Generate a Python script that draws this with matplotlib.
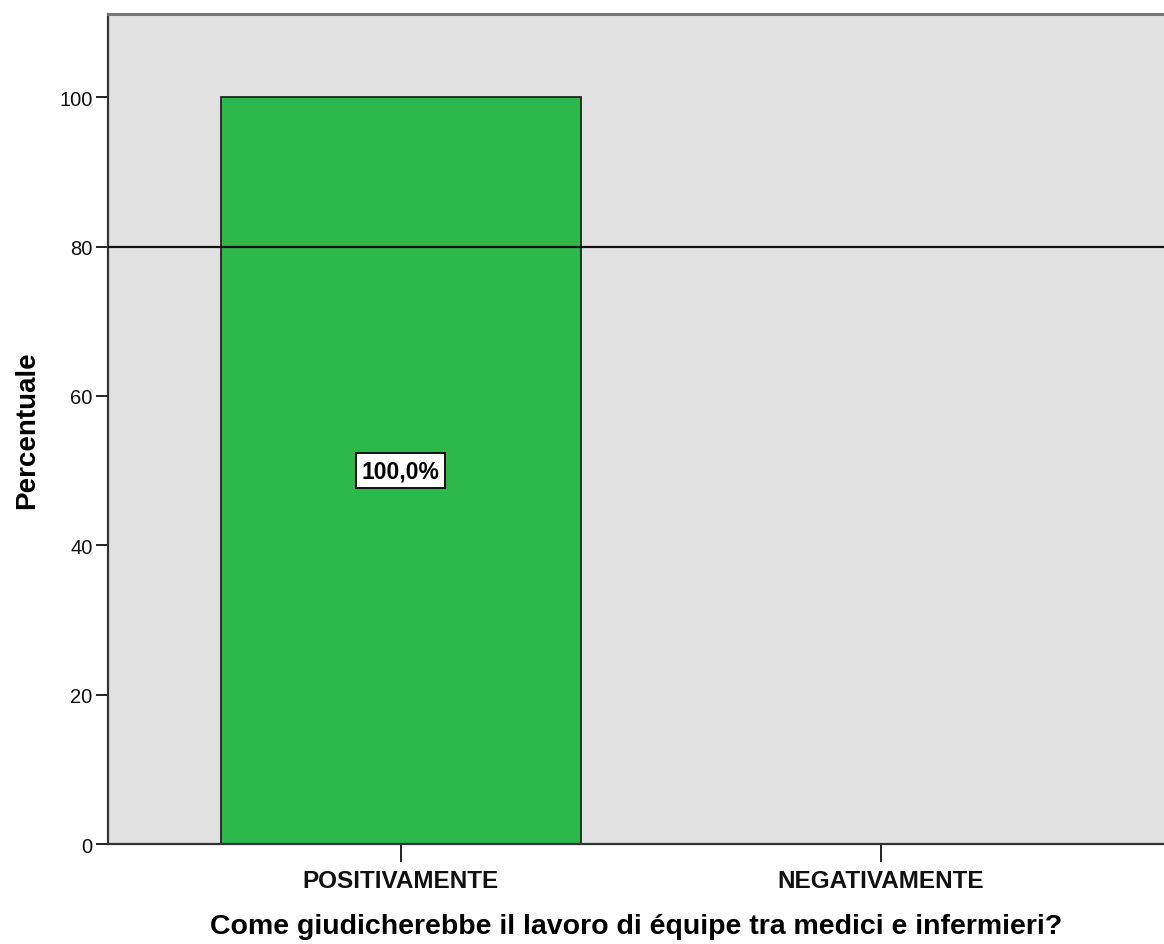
import matplotlib.pyplot as plt

plt.rcParams['font.family'] = ['Liberation Sans', 'DejaVu Sans']

categories = ['POSITIVAMENTE', 'NEGATIVAMENTE']
percent = [100.0, 0.0]
bar_labels = ['100,0%', '']
ref_value = 80

fig = plt.figure(figsize=(11.64, 9.45), dpi=100)
ax = fig.add_axes([0.0928, 0.1058, 0.9072, 0.878])
ax.set_facecolor('#E1E1E1')

x = list(range(len(categories)))
bars = ax.bar(x, percent, width=0.75, color='#2DB84B', edgecolor='#222222', linewidth=1.3, zorder=2)
ax.axhline(ref_value, color='#111111', linewidth=1.6, zorder=3)

for b, lab in zip(bars, bar_labels):
    if lab:
        ax.text(b.get_x() + b.get_width() / 2, b.get_height() / 2, lab,
                ha='center', va='center', fontsize=16.5, fontweight='bold', zorder=4,
                bbox=dict(boxstyle='square,pad=0.25', facecolor='white', edgecolor='#111111', linewidth=1.4))

ax.set_xlim(-0.61, 1.59)
ax.set_ylim(0, 111.1)
ax.set_yticks([0, 20, 40, 60, 80, 100])
ax.set_xticks(x)
ax.set_xticklabels(categories, fontsize=17.5, fontweight='bold')
ax.tick_params(axis='y', labelsize=14.5, length=9, width=1.3, pad=2, colors='#111111')
ax.tick_params(axis='x', length=13, width=1.3, pad=5, colors='#111111')

for s in ['left', 'bottom']:
    ax.spines[s].set_linewidth(1.6)
    ax.spines[s].set_color('#333333')
ax.spines['top'].set_linewidth(2.2)
ax.spines['top'].set_color('#777777')
ax.spines['right'].set_visible(False)

ax.set_ylabel('Percentuale', fontsize=20, fontweight='bold', labelpad=14)
ax.set_xlabel('Come giudicherebbe il lavoro di équipe tra medici e infermieri?',
              fontsize=20.5, fontweight='bold', labelpad=15)

fig.savefig('out.png', dpi=100)
